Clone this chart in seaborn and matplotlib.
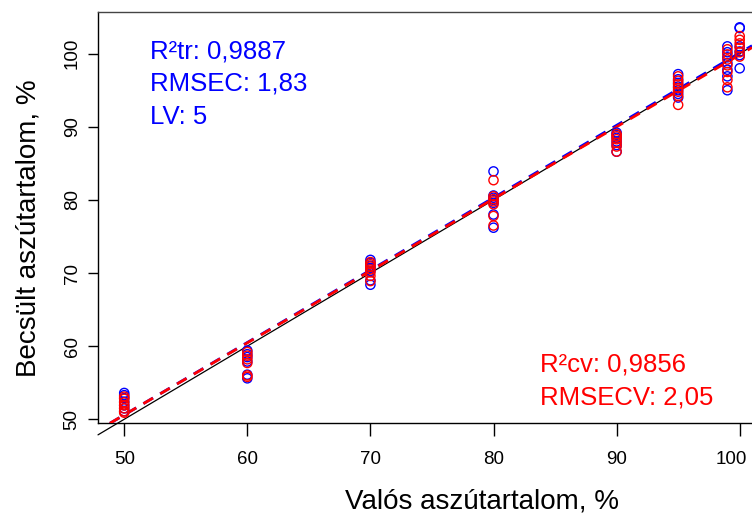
import numpy as np
import pandas as pd
import matplotlib
matplotlib.use("Agg")
import matplotlib.pyplot as plt
import matplotlib.transforms as mtransforms
import seaborn as sns

# valós aszútartalom (x) és becsült értékek: kalibráció (kék) és keresztvalidáció (piros)
valos_tr = [50] * 7 + [60] * 6 + [70] * 7 + [80] * 7 + [90] * 6 + [95] * 7 + [99] * 7 + [100] * 6
becsult_tr = [53.6, 53.3, 52.9, 52.4, 51.9, 51.5, 51.1,
              59.4, 58.9, 58.5, 57.9, 56.1, 55.6,
              71.8, 71.4, 71.0, 70.7, 70.3, 69.0, 68.4,
              83.9, 80.6, 80.3, 80.0, 79.6, 78.0, 76.2,
              89.2, 88.9, 88.5, 88.0, 87.5, 86.6,
              97.2, 96.5, 96.0, 95.5, 95.0, 94.5, 94.0,
              101.0, 100.2, 99.5, 98.7, 97.8, 96.9, 95.0,
              103.6, 103.5, 101.0, 100.3, 99.8, 98.0]

valos_cv = [50] * 7 + [60] * 6 + [70] * 7 + [80] * 7 + [90] * 6 + [95] * 7 + [99] * 7 + [100] * 6
becsult_cv = [53.1, 52.8, 52.3, 51.9, 51.5, 51.1, 50.9,
              59.2, 58.7, 58.2, 57.7, 56.0, 55.8,
              71.5, 71.2, 70.9, 70.5, 70.1, 69.6, 68.9,
              82.7, 80.5, 80.1, 79.8, 79.4, 77.8, 76.5,
              89.0, 88.7, 88.3, 87.8, 87.3, 86.6,
              96.9, 96.3, 95.8, 95.3, 94.8, 94.2, 93.0,
              100.6, 99.9, 99.2, 98.4, 97.5, 96.4, 95.4,
              102.4, 101.9, 101.4, 100.8, 100.2, 99.6]

# illesztett egyenesek (meredekség, tengelymetszet)
illesztes_tr = (0.990, 1.10)
illesztes_cv = (0.985, 1.35)

xticks = [50, 60, 70, 80, 90, 100]
yticks = [50, 60, 70, 80, 90, 100]

sns.set_style("white")
plt.rcParams['font.family'] = ['Liberation Sans', 'DejaVu Sans']
plt.rcParams['text.color'] = 'black'
plt.rcParams['axes.labelcolor'] = 'black'
plt.rcParams['xtick.color'] = 'black'
plt.rcParams['ytick.color'] = 'black'

kek = "#0000FF"
piros = "#FF0000"

df_tr = pd.DataFrame({'valos': valos_tr, 'becsult': becsult_tr})
df_cv = pd.DataFrame({'valos': valos_cv, 'becsult': becsult_cv})

fig = plt.figure(figsize=(7.52, 5.16), dpi=100)
ax = fig.add_axes([98 / 752, 1 - 423.3 / 516, 1 - 98 / 752, (423.3 - 12) / 516])

ax.set_xlim(47.87, 101.0)
ax.set_ylim(49.45, 105.7)

# y = x referencia egyenes, a tengelyen kívülre is kinyúlik
x0, x1 = ax.get_xlim()
ax.plot([x0, x1 + 1], [x0, x1 + 1], color='black', lw=0.9, clip_on=False, zorder=2)

# regressziós egyenesek
ax.axline((0, illesztes_tr[1]), slope=illesztes_tr[0], color=kek, lw=2.0,
          dashes=(4, 3), zorder=3)
ax.axline((0, illesztes_cv[1]), slope=illesztes_cv[0], color=piros, lw=2.0,
          dashes=(4, 3), zorder=3.1)

sns.scatterplot(data=df_tr, x='valos', y='becsult', ax=ax, marker='o', s=44,
                facecolors='none', edgecolor=kek, linewidth=1.0, zorder=4)
sns.scatterplot(data=df_cv, x='valos', y='becsult', ax=ax, marker='o', s=44,
                facecolors='none', edgecolor=piros, linewidth=1.0, zorder=5)

ax.set_xticks(xticks)
ax.set_yticks(yticks)
ax.set_xticklabels([str(t) for t in xticks], fontsize=13.5)
ax.set_yticklabels([str(t) for t in yticks], fontsize=13.5,
                   rotation=90, va='center')
ax.tick_params(axis='x', direction='out', length=9, width=1, pad=11, bottom=True,
               colors='black')
ax.tick_params(axis='y', direction='out', length=7.5, width=1, pad=5, left=True,
               colors='black')

# az utolsó címke a kép széléhez simul
utolso = ax.get_xticklabels()[-1]
utolso.set_transform(utolso.get_transform() +
                     mtransforms.ScaledTranslation(-6 / 72, 0, fig.dpi_scale_trans))

ax.spines['right'].set_visible(False)
ax.spines['top'].set_color('#444444')
for s in ['left', 'bottom']:
    ax.spines[s].set_color('black')
for s in ['left', 'bottom', 'top']:
    ax.spines[s].set_linewidth(1.0)

ax.set_xlabel('Valós aszútartalom, %', fontsize=20, va='baseline', color='black')
ax.xaxis.set_label_coords(0.587, -0.206)
ax.set_ylabel('Becsült aszútartalom, %', fontsize=20, va='center', color='black')
ax.yaxis.set_label_coords(-0.107, 0.475)

# statisztikák
ax.text(0.0795, 0.8874, 'R²tr: 0,9887', transform=ax.transAxes, color=kek,
        fontsize=18.5, va='baseline')
ax.text(0.0795, 0.808, 'RMSEC: 1,83', transform=ax.transAxes, color=kek,
        fontsize=18.5, va='baseline')
ax.text(0.0795, 0.7277, 'LV: 5', transform=ax.transAxes, color=kek,
        fontsize=18.5, va='baseline')
ax.text((540 - 98) / 654, 1 - (371.7 - 12) / 411.3, 'R²cv: 0,9856', transform=ax.transAxes,
        color=piros, fontsize=18.5, va='baseline')
ax.text((540 - 98) / 654, 1 - (405 - 12) / 411.3, 'RMSECV: 2,05', transform=ax.transAxes,
        color=piros, fontsize=18.5, va='baseline')

fig.savefig('out.png', dpi=100)
